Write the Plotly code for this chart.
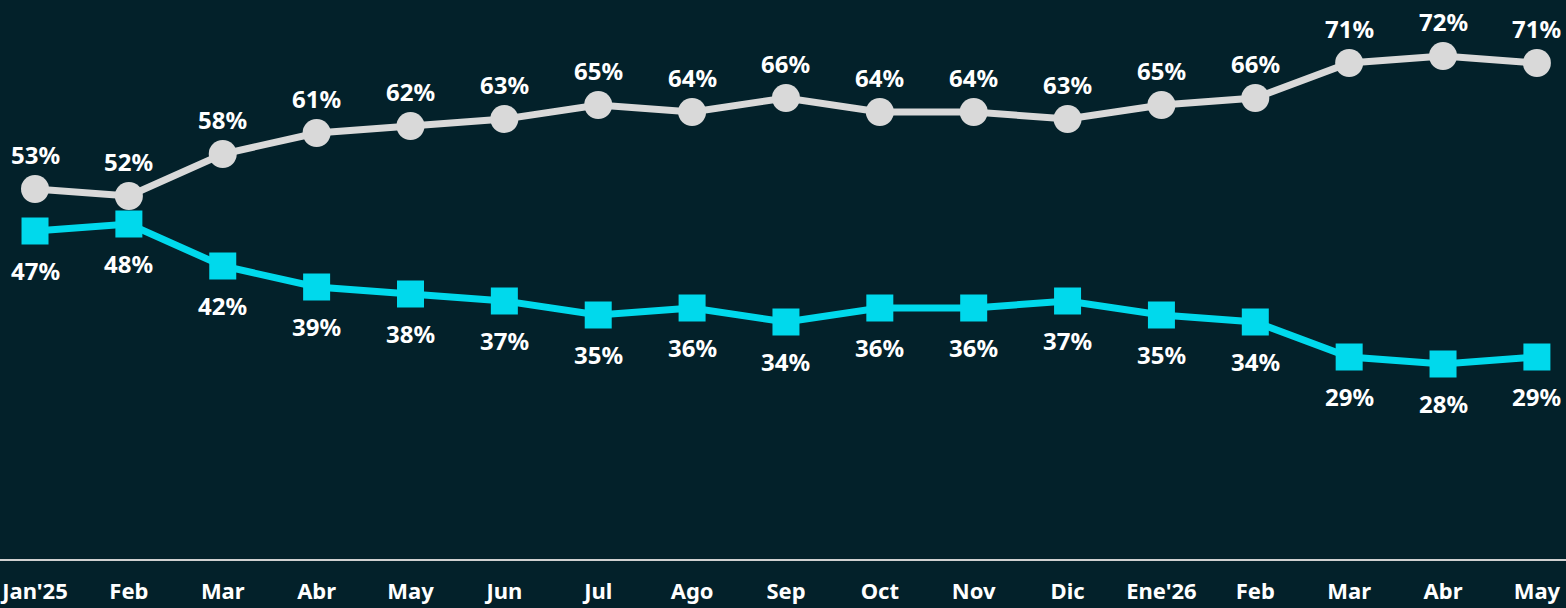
import plotly.graph_objects as go

months = ["Jan'25", "Feb", "Mar", "Abr", "May", "Jun", "Jul", "Ago", "Sep",
          "Oct", "Nov", "Dic", "Ene'26", "Feb", "Mar", "Abr", "May"]
series_gray = [53, 52, 58, 61, 62, 63, 65, 64, 66, 64, 64, 63, 65, 66, 71, 72, 71]
series_cyan = [47, 48, 42, 39, 38, 37, 35, 36, 34, 36, 36, 37, 35, 34, 29, 28, 29]

BG = "#03212A"
GRAY = "#D9D9D9"
CYAN = "#00D9EC"
FONT = "Noto Sans"

idx = list(range(len(months)))

fig = go.Figure()
fig.add_trace(go.Scatter(
    x=idx, y=series_gray, mode="lines+markers",
    line=dict(color=GRAY, width=7),
    marker=dict(symbol="circle", size=28, color=GRAY),
    hoverinfo="skip", showlegend=False, cliponaxis=False,
))
fig.add_trace(go.Scatter(
    x=idx, y=series_cyan, mode="lines+markers",
    line=dict(color=CYAN, width=7),
    marker=dict(symbol="square", size=27, color=CYAN),
    hoverinfo="skip", showlegend=False, cliponaxis=False,
))

annotations = []
for i, v in zip(idx, series_gray):
    annotations.append(dict(x=i, y=v, text=f"<b>{v}%</b>", showarrow=False,
                            yshift=35, font=dict(family=FONT, size=24, color="white")))
for i, v in zip(idx, series_cyan):
    annotations.append(dict(x=i, y=v, text=f"<b>{v}%</b>", showarrow=False,
                            yshift=-39, font=dict(family=FONT, size=24, color="white")))

fig.update_layout(
    width=1566, height=608,
    margin=dict(l=0, r=0, t=0, b=48),
    paper_bgcolor=BG, plot_bgcolor=BG,
    annotations=annotations,
    xaxis=dict(
        range=[-0.373, 16.31], tickmode="array", tickvals=idx,
        ticktext=[f"<b>{m}</b>" for m in months],
        tickfont=dict(family=FONT, size=22, color="white"),
        showgrid=False, zeroline=False, showline=False, ticks="",
        ticklabelstandoff=16, fixedrange=True,
    ),
    yaxis=dict(
        range=[0, 80], showgrid=False, showticklabels=False,
        zeroline=True, zerolinecolor="#D0D0D0", zerolinewidth=2,
        showline=False, fixedrange=True,
    ),
)

fig.write_html(
    "out.html",
    config={"displayModeBar": False},
    post_script="document.body.style.margin='0';document.body.style.background='#03212A';",
)
